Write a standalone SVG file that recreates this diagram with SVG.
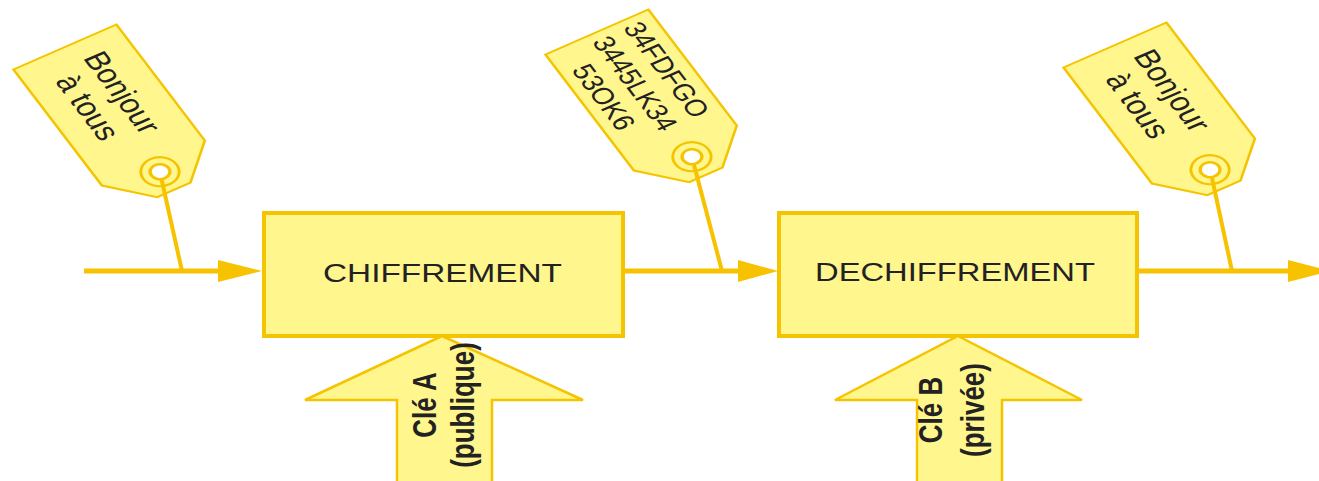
<svg xmlns="http://www.w3.org/2000/svg" width="1319" height="481" viewBox="0 0 1319 481">
<defs>
<style>
.box{fill:#FFF68E;stroke:#F5C400;stroke-width:4}
.tag{fill:#FFF68E;stroke:#F5C400;stroke-width:2}
.ring{fill:none;stroke:#F5C400;stroke-width:2.2}
.hole{fill:#FFFFFF;stroke:#F5C400;stroke-width:2.5}
.blk{fill:#FFF68E;stroke:#F5C400;stroke-width:2.5}
.line{stroke:#F7C200;stroke-width:5;fill:none}
.str{stroke:#F7C200;stroke-width:4;fill:none}
.head{fill:#F7C200}
.lbl{font-family:"Liberation Sans",Arial,sans-serif;font-size:25px;fill:#222}
.tt{font-family:"Liberation Sans",Arial,sans-serif;fill:#222;text-anchor:middle}
.kt{font-family:"Liberation Sans",Arial,sans-serif;font-size:26px;font-weight:bold;fill:#222;text-anchor:middle}
</style>
<path id="tagshape" d="M0,-45 L134,-45 L165,-14.5 L165,14.5 L134,45 L0,45 Z"/>
</defs>
<rect width="1319" height="481" fill="#FFFFFF"/>

<g id="connectors">
<line class="line" x1="84" y1="271" x2="222" y2="271"/>
<polygon class="head" points="218,260 262,271 218,282"/>
<line class="line" x1="625" y1="271" x2="742" y2="271"/>
<polygon class="head" points="738,260 778,271 738,282"/>
<line class="line" x1="1139" y1="271" x2="1292" y2="271"/>
<polygon class="head" points="1288,260 1330,271 1288,282"/>
</g>

<g id="chiffrement">
<rect class="box" x="264" y="213" width="359" height="123"/>
<text class="lbl" x="323" y="282" textLength="239" lengthAdjust="spacingAndGlyphs">CHIFFREMENT</text>
</g>

<g id="dechiffrement">
<rect class="box" x="779" y="213" width="358" height="123"/>
<text class="lbl" x="815" y="281" textLength="280" lengthAdjust="spacingAndGlyphs">DECHIFFREMENT</text>
</g>

<g id="cle-a">
<polygon class="blk" points="442,336 583,400 492,400 492,490 397,490 397,400 305,400"/>
<text class="kt" transform="translate(436,405) scale(1.25,1) rotate(-90)"><tspan x="0" y="0">Clé A</tspan><tspan x="0" y="30.5">(publique)</tspan></text>
</g>

<g id="cle-b">
<polygon class="blk" points="958,336 1082,400 1002,400 1002,490 917,490 917,400 835,400"/>
<text class="kt" transform="translate(942,410) scale(1.25,1) rotate(-90)"><tspan x="0" y="0">Clé B</tspan><tspan x="0" y="34">(privée)</tspan></text>
</g>

<g id="tag1">
<g transform="scale(1.32,1) translate(49.2,47) rotate(60)">
<use href="#tagshape" class="tag"/>
<circle class="ring" cx="144" cy="0" r="14.5"/>
<circle class="hole" cx="144" cy="0" r="7.5"/>
<text class="tt" font-size="26"><tspan x="61" y="-6">Bonjour</tspan><tspan x="61" y="24">à tous</tspan></text>
</g>
</g>

<g id="tag2">
<g transform="scale(1.32,1) translate(452.2,32) rotate(60)">
<use href="#tagshape" class="tag"/>
<circle class="ring" cx="144" cy="0" r="14.5"/>
<circle class="hole" cx="144" cy="0" r="7.5"/>
<text class="tt" font-size="23"><tspan x="59" y="-19">34FDFGO</tspan><tspan x="59" y="8.5">3445LK34</tspan><tspan x="59" y="36">53OK6</tspan></text>
</g>
</g>

<g id="tag3">
<g transform="scale(1.32,1) translate(844.7,45) rotate(60)">
<use href="#tagshape" class="tag"/>
<circle class="ring" cx="144" cy="0" r="14.5"/>
<circle class="hole" cx="144" cy="0" r="7.5"/>
<text class="tt" font-size="26"><tspan x="61" y="-6">Bonjour</tspan><tspan x="61" y="24">à tous</tspan></text>
</g>
</g>

<g id="strings">
<line class="str" x1="161.7" y1="180" x2="182" y2="271"/>
<line class="str" x1="694" y1="165" x2="722" y2="271"/>
<line class="str" x1="1212" y1="178" x2="1232" y2="271"/>
</g>
</svg>
